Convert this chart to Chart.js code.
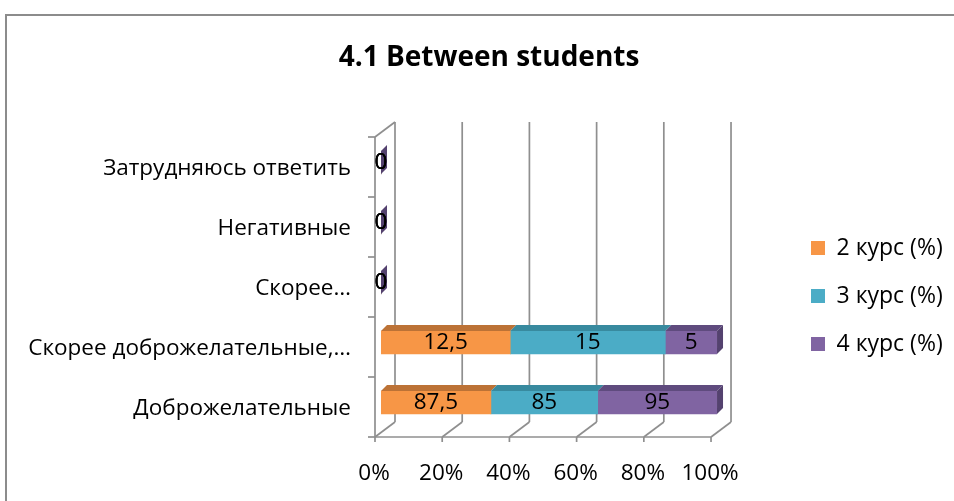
<!DOCTYPE html>
<html lang="ru">
<head>
<meta charset="UTF-8">
<title>4.1 Between students</title>
<script src="https://cdn.jsdelivr.net/npm/chart.js"></script>
<style>
    html, body { margin: 0; padding: 0; background: #fff; overflow: hidden; }
    body { width: 954px; height: 501px; position: relative; }
    .frame { position: absolute; left: 5px; top: 14px; width: 1000px; height: 600px; border: 2px solid #8c8c8c; box-sizing: border-box; }
    .chart-box { position: absolute; left: 0; top: 0; }
</style>
</head>
<body>
<div class="frame"></div>
<div class="chart-box"><canvas id="relChart" width="978" height="501"></canvas></div>
<script>
// answers, bottom to top
const categories = ['Доброжелательные', 'Скорее доброжелательные,…', 'Скорее…', 'Негативные', 'Затрудняюсь ответить'];
const course2 = [87.5, 12.5, 0, 0, 0];
const course3 = [85, 15, 0, 0, 0];
const course4 = [95, 5, 0, 0, 0];
const seriesNames = ['2 курс (%)', '3 курс (%)', '4 курс (%)'];
const xTickStep = 20;

const FONT = '"Open Sans", "Noto Sans", sans-serif';
const LABEL_SIZE = 22.5;
const LEGEND_SIZE = 23;
const faceColors = ['#F79646', '#4BACC6', '#8064A2'];
const topColors = ['#BC7236', '#388A9F', '#5F4B7E'];
const sideColor = '#54426F';
const GRID_COLOR = '#8f8f8f';

// fake 3D: front wall vs bar front, wall depth, bar thickness
const PLANE_SHIFT = { x: -6, y: 4.5 };
const WALL_DEPTH = { x: 20, y: -15 };
const BAR_DEPTH = { x: 6, y: -6 };

// stacked 100%: each row is split by its own total
const rawSeries = [course2, course3, course4];
const rowTotals = categories.map((_, i) => rawSeries.reduce((s, arr) => s + arr[i], 0));
const toShare = arr => arr.map((v, i) => rowTotals[i] ? v / rowTotals[i] * 100 : 0);

function fillPoly(ctx, pts) {
    ctx.beginPath();
    ctx.moveTo(pts[0][0], pts[0][1]);
    for (let i = 1; i < pts.length; i++) ctx.lineTo(pts[i][0], pts[i][1]);
    ctx.closePath();
    ctx.fill();
}

function line(ctx, x1, y1, x2, y2) {
    ctx.beginPath();
    ctx.moveTo(x1, y1);
    ctx.lineTo(x2, y2);
    ctx.stroke();
}

const wall3d = {
    id: 'wall3d',
    beforeDatasetsDraw(chart) {
        const { ctx, chartArea, scales: { x, y } } = chart;
        const fx = v => x.getPixelForValue(v) + PLANE_SHIFT.x;
        const top = chartArea.top + PLANE_SHIFT.y;
        const bottom = chartArea.bottom + PLANE_SHIFT.y;
        ctx.save();
        ctx.strokeStyle = GRID_COLOR;
        ctx.lineWidth = 1.7;
        x.ticks.forEach(t => {
            const px = fx(t.value);
            line(ctx, px + WALL_DEPTH.x, top + WALL_DEPTH.y, px + WALL_DEPTH.x, bottom + WALL_DEPTH.y);
            line(ctx, px, bottom, px + WALL_DEPTH.x, bottom + WALL_DEPTH.y);
            line(ctx, px, bottom, px, bottom + 5);
        });
        const x0 = fx(x.min);
        line(ctx, x0, bottom, fx(x.max), bottom);
        line(ctx, x0, top, x0, bottom);
        line(ctx, x0, top, x0 + WALL_DEPTH.x, top + WALL_DEPTH.y);
        const band = (bottom - top) / y.ticks.length;
        for (let k = 0; k <= y.ticks.length; k++) {
            line(ctx, x0 - 7, top + k * band, x0, top + k * band);
        }
        ctx.restore();
    },
    afterDatasetsDraw(chart) {
        const ctx = chart.ctx;
        const metas = chart.getSortedVisibleDatasetMetas();
        const last = metas.length - 1;
        ctx.save();
        metas.forEach((meta, k) => {
            meta.data.forEach(bar => {
                const { x, y, base, height } = bar.getProps(['x', 'y', 'base', 'height'], true);
                const t = y - height / 2, b = y + height / 2;
                if (x - base > 0.5) {
                    ctx.fillStyle = topColors[k];
                    fillPoly(ctx, [[base, t], [x, t], [x + BAR_DEPTH.x, t + BAR_DEPTH.y], [base + BAR_DEPTH.x, t + BAR_DEPTH.y]]);
                }
                if (k === last) {
                    ctx.fillStyle = sideColor;
                    fillPoly(ctx, [[x, t], [x + BAR_DEPTH.x, t + BAR_DEPTH.y], [x + BAR_DEPTH.x, b + BAR_DEPTH.y], [x, b]]);
                }
            });
        });
        // value labels, raw numbers with decimal comma
        ctx.fillStyle = '#000';
        ctx.font = LABEL_SIZE + 'px ' + FONT;
        ctx.textAlign = 'center';
        ctx.textBaseline = 'middle';
        metas.forEach((meta, k) => {
            const raw = rawSeries[k];
            meta.data.forEach((bar, i) => {
                const { x, y, base } = bar.getProps(['x', 'y', 'base'], true);
                ctx.fillText(String(raw[i]).replace('.', ','), (x + base) / 2, y);
            });
        });
        ctx.restore();
    }
};

// title over the whole frame, legend pinned to the right
const placeBoxes = {
    id: 'placeBoxes',
    afterLayout(chart) {
        const t = chart.titleBlock;
        t.left = 0;
        t.right = chart.width;
        const lg = chart.legend;
        const pad = lg.options.labels.padding;
        const w = lg.right - lg.left, h = lg.bottom - lg.top;
        lg.left = 811 - pad;
        lg.right = lg.left + w;
        lg.top = 248 - pad - LEGEND_SIZE / 2;
        lg.bottom = lg.top + h;
    }
};

new Chart(document.getElementById('relChart'), {
    type: 'bar',
    data: {
        labels: categories,
        datasets: rawSeries.map((arr, k) => ({
            label: seriesNames[k],
            data: toShare(arr),
            backgroundColor: faceColors[k],
            borderWidth: 0,
            barThickness: 23
        }))
    },
    options: {
        indexAxis: 'y',
        responsive: false,
        animation: false,
        layout: { padding: { left: 0, right: 94.3, top: 0, bottom: 0 } },
        plugins: {
            title: {
                display: true,
                text: '4.1 Between students',
                color: '#000',
                font: { family: FONT, size: 28, weight: 'bold', lineHeight: 1.2 },
                padding: { top: 41.2, bottom: 57.7 }
            },
            legend: {
                position: 'right',
                align: 'start',
                labels: { boxWidth: 14, boxHeight: 14, padding: 48 - LEGEND_SIZE, color: '#000', font: { family: FONT, size: LEGEND_SIZE } }
            },
            tooltip: { enabled: false }
        },
        scales: {
            x: {
                stacked: true,
                min: 0,
                max: 100,
                grid: { display: false },
                border: { display: false },
                ticks: { stepSize: xTickStep, callback: v => v + '%', labelOffset: -7, padding: 20, maxRotation: 0, color: '#000', font: { family: FONT, size: LABEL_SIZE } },
                afterFit: s => { s.height = 68.5; }
            },
            y: {
                stacked: true,
                reverse: true,
                grid: { display: false },
                border: { display: false },
                ticks: { padding: 22, labelOffset: 6, color: '#000', font: { family: FONT, size: LABEL_SIZE } },
                afterFit: s => { s.width = 381; }
            }
        }
    },
    plugins: [wall3d, placeBoxes]
});
</script>
</body>
</html>
